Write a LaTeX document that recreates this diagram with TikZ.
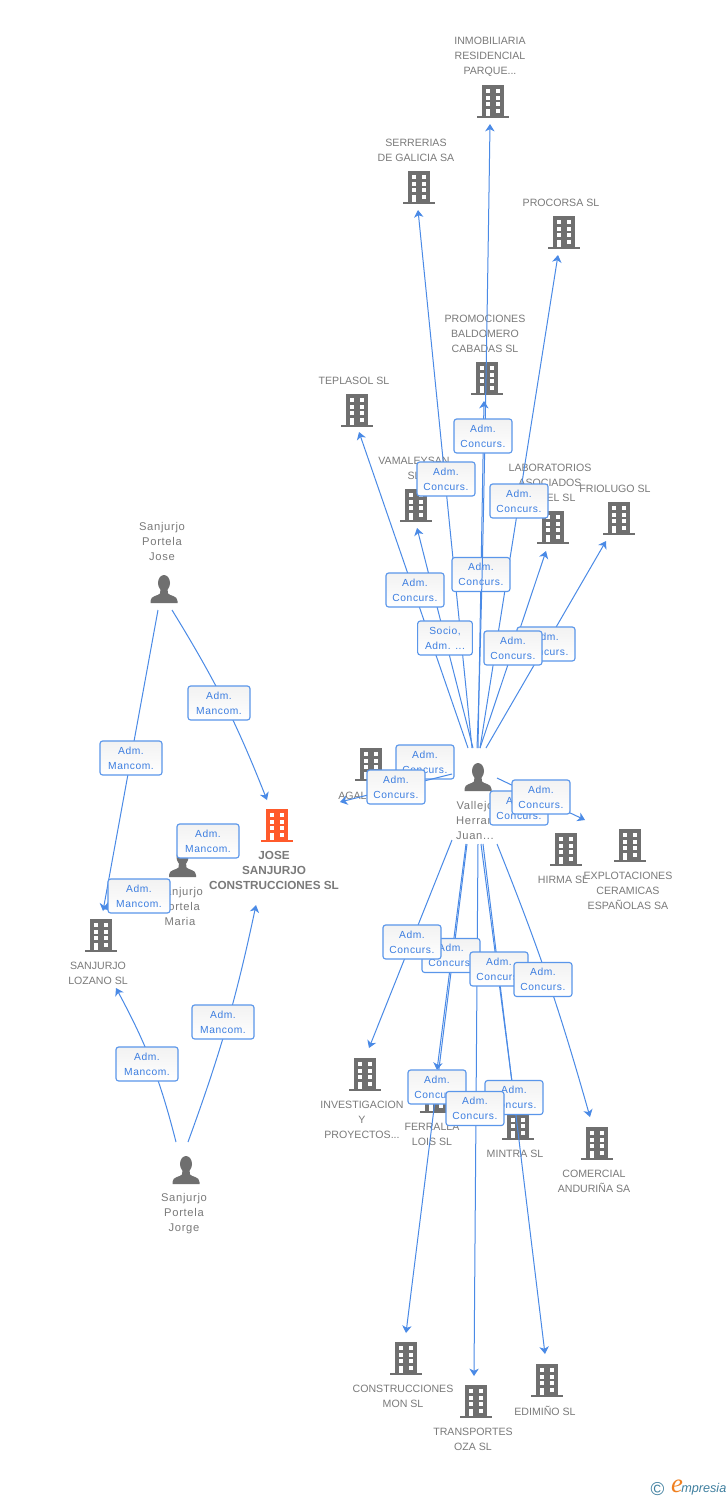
\documentclass[tikz,border=0pt]{standalone}
\usepackage{fontspec}
\setmainfont{Liberation Sans}
\usetikzlibrary{arrows.meta}
\newfontfamily\logofont{Liberation Serif}
\definecolor{icongray}{HTML}{6F6F6F}
\definecolor{namegray}{HTML}{7A7A7A}
\definecolor{mainorange}{HTML}{FF5A2B}
\definecolor{edgeblue}{HTML}{4A8AE6}
\definecolor{tagline}{HTML}{5A96EA}
\definecolor{tagtext}{HTML}{3B7DE0}
\definecolor{tagtop}{HTML}{F2F2F2}
\definecolor{logoteal}{HTML}{3F7F9F}
\definecolor{logoorange}{HTML}{F08020}
\tikzset{
  x=0.75pt,y=-0.75pt,
  namelabel/.style={text=namegray,align=center,inner sep=0pt,yshift=-0.5pt,font=\fontsize{7.95}{11.25}\selectfont},
  personlabel/.style={namelabel,font=\fontsize{8.4}{11.25}\selectfont\addfontfeature{LetterSpace=6}},
  mainlabel/.style={text=namegray,align=center,inner sep=0pt,yshift=-0.5pt,font=\fontsize{8.8}{11.25}\selectfont\bfseries},
  tag/.style={draw=tagline,line width=0.85pt,rounded corners=2pt,top color=tagtop,bottom color=white,
    minimum width=43.5pt,minimum height=25.5pt,inner sep=0pt,align=center,text=tagtext,
    font=\fontsize{7.7}{11.1}\selectfont\addfontfeature{LetterSpace=5.5}},
  mantag/.style={tag,minimum width=46.5pt},
  sociotag/.style={tag,minimum width=41pt},
  edge/.style={draw=edgeblue,line width=0.75pt,-{Stealth[length=5.5pt,width=7pt,inset=1.6pt]}},
  iconspot/.style={inner sep=0pt,minimum size=1pt}
}
\newcommand{\bldg}[4]{%
  \node[iconspot] (#1) at (#2,#3) {};
  \begin{scope}[shift={(#2,#3)}]
    \fill[#4] (-11,-17) rectangle (11,15);
    \fill[#4] (-16,14) rectangle (16,16);
    \foreach \wy in {-13,-6.5,0}{
      \fill[white] (-7.5,\wy) rectangle (-2.7,\wy+4.3);
      \fill[white] (2.5,\wy) rectangle (7.3,\wy+4.3);
    }
    \fill[white] (-7.5,6.5) rectangle (-2.7,14);
    \fill[white] (2.5,6.5) rectangle (7.3,10.8);
  \end{scope}}
\newcommand{\persona}[3]{%
  \node[iconspot] (#1) at (#2,#3) {};
  \begin{scope}[shift={(#2,#3)}]
    \fill[icongray] (0,-6) ellipse (6 and 8);
    \fill[icongray] (-3.5,0) -- (3.5,0) -- (4,4.5) .. controls (6,7) and (13.5,6.5) .. (13.5,12) -- (13.5,14)
      -- (-13.5,14) -- (-13.5,12) .. controls (-13.5,6.5) and (-6,7) .. (-4,4.5) -- cycle;
  \end{scope}}
\begin{document}
\begin{tikzpicture}
\useasboundingbox (0,0) rectangle (728,1500);
\fill[white] (0,0) rectangle (728,1500);

% --- icons
\bldg{inmob}{493}{102}{icongray}
\bldg{serre}{419}{188}{icongray}
\bldg{procor}{564}{233}{icongray}
\bldg{promo}{487}{379}{icongray}
\bldg{teplas}{357}{411}{icongray}
\bldg{vamal}{416}{506}{icongray}
\bldg{labor}{553}{528}{icongray}
\bldg{friol}{619}{519}{icongray}
\bldg{agal}{371}{765}{icongray}
\bldg{hirma}{566}{850}{icongray}
\bldg{explot}{630}{846}{icongray}
\bldg{jose}{277}{826}{mainorange}
\bldg{lozano}{101}{936}{icongray}
\bldg{invest}{365}{1075}{icongray}
\bldg{ferral}{436}{1097}{icongray}
\bldg{mintra}{518}{1124}{icongray}
\bldg{comerc}{597}{1144}{icongray}
\bldg{constr}{406}{1359}{icongray}
\bldg{transp}{476}{1402}{icongray}
\bldg{edimi}{547}{1381}{icongray}
\persona{pJose}{164}{589}
\persona{pMaria}{182.5}{863}
\persona{pJorge}{186}{1170}
\persona{pJuan}{478}{777}

% --- names
\node[namelabel] (tInmob) at (490,56) {INMOBILIARIA\\RESIDENCIAL\\PARQUE...};
\node[namelabel] (tSerre) at (416,149.5) {SERRERIAS\\DE GALICIA SA};
\node[namelabel] (tProcor) at (561,202) {PROCORSA SL};
\node[namelabel] (tPromo) at (485,333) {PROMOCIONES\\BALDOMERO\\CABADAS SL};
\node[namelabel] (tTeplas) at (354,380) {TEPLASOL SL};
\node[namelabel] (tVamal) at (414,467.5) {VAMALEYSAN\\SL};
\node[namelabel] (tLabor) at (550,482) {LABORATORIOS\\ASOCIADOS\\\hspace*{16.5pt}EL SL};
\node[namelabel] (tFriol) at (615,488) {FRIOLUGO SL};
\node[namelabel,anchor=west] (tAgal) at (338,795) {AGAL};
\node[namelabel] (tHirma) at (563,879) {HIRMA SL};
\node[namelabel] (tExplot) at (628,890) {EXPLOTACIONES\\CERAMICAS\\ESPAÑOLAS SA};
\node[mainlabel] (tJose) at (274,870) {JOSE\\SANJURJO\\CONSTRUCCIONES SL};
\node[personlabel] (tpJose) at (162,541) {Sanjurjo\\Portela\\Jose};
\node[personlabel] (tpMaria) at (180,906) {Sanjurjo\\Portela\\Maria};
\node[namelabel] (tLozano) at (98,972.5) {SANJURJO\\LOZANO SL};
\node[personlabel] (tpJorge) at (184,1213) {Sanjurjo\\Portela\\Jorge};
\node[personlabel] (tpJuan) at (475,820) {Vallejo\\Herran\hspace*{5pt}\\Juan...};
\node[namelabel] (tInvest) at (362,1119) {INVESTIGACION\\Y\\PROYECTOS...};
\node[namelabel] (tFerral) at (432,1133.5) {FERRALLA\\LOIS SL};
\node[namelabel] (tMintra) at (515,1153) {MINTRA SL};
\node[namelabel] (tComerc) at (594,1180.5) {COMERCIAL\\ANDURIÑA SA};
\node[namelabel] (tConstr) at (403,1395.5) {CONSTRUCCIONES\\MON SL};
\node[namelabel] (tTransp) at (473,1438.5) {TRANSPORTES\\OZA SL};
\node[namelabel] (tEdimi) at (545,1410) {EDIMIÑO SL};

% --- connector ends
\coordinate (sTeplas) at (468,748);  \coordinate (eTeplas) at (359,432);
\coordinate (sSerre) at (472,748);   \coordinate (eSerre) at (418,210);
\coordinate (sInmob) at (477,748);   \coordinate (eInmob) at (490,124);
\coordinate (cInmobA) at (482,620);  \coordinate (cInmobB) at (486,400);
\coordinate (sPromo) at (478,748);   \coordinate (ePromo) at (484,401);
\coordinate (sProcor) at (480,748);  \coordinate (eProcor) at (558,255);
\coordinate (sVamal) at (473,748);   \coordinate (eVamal) at (417,528);
\coordinate (sLabor) at (480,748);   \coordinate (eLabor) at (546,551);
\coordinate (sFriol) at (486,748);   \coordinate (eFriol) at (606,541);
\coordinate (sAgal) at (452,774);    \coordinate (eAgal) at (340,802);
\coordinate (sRight) at (497,778);   \coordinate (eRight) at (585,820);
\coordinate (sInvest) at (452,840);  \coordinate (eInvest) at (369,1048);
\coordinate (sFerral) at (466,844);  \coordinate (eFerral) at (437,1070);
\coordinate (sConstr) at (467,844);  \coordinate (eConstr) at (406,1333);
\coordinate (sTransp) at (478,844);  \coordinate (eTransp) at (474,1376);
\coordinate (sEdimi) at (483,844);   \coordinate (eEdimi) at (545,1354);
\coordinate (sMintra) at (481,844);  \coordinate (eMintra) at (514,1097);
\coordinate (sComerc) at (497,844);  \coordinate (eComerc) at (590,1117);
\coordinate (sJ1) at (158,610);      \coordinate (eJ1) at (103,911);
\coordinate (sJ2) at (172,610);      \coordinate (eJ2) at (267,800);
\coordinate (sM1) at (170,882);      \coordinate (eM1) at (103,909);
\coordinate (sG1) at (188,1142);     \coordinate (eG1) at (256,905);
\coordinate (sG2) at (176,1142);     \coordinate (eG2) at (116,988);

% --- connectors
\draw[edge] (sTeplas) -- (eTeplas);
\draw[edge] (sSerre) -- (eSerre);
\draw[edge] (sProcor) -- (eProcor);
\draw[edge] (sVamal) -- (eVamal);
\draw[edge] (sLabor) -- (eLabor);
\draw[edge] (sFriol) -- (eFriol);
\draw[edge] (sPromo) -- (ePromo);
\draw[edge] (sRight) -- (eRight);
\draw[edge] (sInvest) -- (eInvest);
\draw[edge] (sFerral) -- (eFerral);
\draw[edge] (sConstr) -- (eConstr);
\draw[edge] (sTransp) -- (eTransp);
\draw[edge] (sEdimi) -- (eEdimi);
\draw[edge] (sMintra) -- (eMintra);
\draw[edge] (sComerc) to[bend left=3] (eComerc);
\draw[edge] (sJ1) -- (eJ1);
\draw[edge] (sJ2) to[bend left=5] (eJ2);
\draw[edge] (sM1) -- (eM1);
\draw[edge] (sG1) to[bend right=4] (eG1);
\draw[edge] (sG2) to[bend right=7] (eG2);

% --- tags
\node[tag] (lPromo) at (481,574.5) {Adm.\\Concurs.};
\draw[edge] (sInmob) .. controls (cInmobA) and (cInmobB) .. (eInmob);
\node[tag] (lSerre) at (446,479) {Adm.\\Concurs.};
\node[tag] (lProcor) at (519,501) {Adm.\\Concurs.};
\node[tag] (lInmob) at (483,436) {Adm.\\Concurs.};
\node[tag] (lTeplas) at (415,590) {Adm.\\Concurs.};
\node[sociotag] (lVamal) at (445,638) {Socio,\\Adm. ...};
\node[tag] (lFriol) at (546,644) {Adm.\\Concurs.};
\node[tag] (lLabor) at (513,648) {Adm.\\Concurs.};
\node[tag] (lAgalB) at (425,762) {Adm.\\Concurs.};
\draw[edge] (sAgal) -- (eAgal);
\node[tag] (lAgal) at (396,787) {Adm.\\Concurs.};
\node[tag] (lHirma) at (519,808) {Adm.\\Concurs.};
\node[tag] (lRight) at (541,797) {Adm.\\Concurs.};
\node[tag] (lFerral) at (451,955.5) {Adm.\\Concurs.};
\node[tag] (lInvest) at (412,942) {Adm.\\Concurs.};
\node[tag] (lMintra) at (499,969) {Adm.\\Concurs.};
\node[tag] (lComerc) at (543,979.5) {Adm.\\Concurs.};
\node[tag] (lConstr) at (437,1087) {Adm.\\Concurs.};
\node[tag] (lEdimi) at (514,1097.5) {Adm.\\Concurs.};
\node[tag] (lTransp) at (475,1108.5) {Adm.\\Concurs.};
\node[mantag] (lJ2) at (219,703) {Adm.\\Mancom.};
\node[mantag] (lJ1) at (131,758) {Adm.\\Mancom.};
\node[mantag] (lM2) at (208,841) {Adm.\\Mancom.};
\node[mantag] (lM1) at (139,896) {Adm.\\Mancom.};
\node[mantag] (lG1) at (223,1022) {Adm.\\Mancom.};
\node[mantag] (lG2) at (147,1064) {Adm.\\Mancom.};

% --- logo
\node[inner sep=0pt,text=logoteal,font=\fontsize{14}{14}\selectfont] (copyr) at (657.5,1489) {©};
\node[inner sep=0pt,text=logoorange,font=\logofont\itshape\fontsize{20}{20}\selectfont] (logoe) at (677,1486) {e};
\node[inner sep=0pt,anchor=west,text=logoteal,font=\itshape\fontsize{9.5}{9.5}\selectfont] (logot) at (681,1489) {mpresia};
\end{tikzpicture}
\end{document}
